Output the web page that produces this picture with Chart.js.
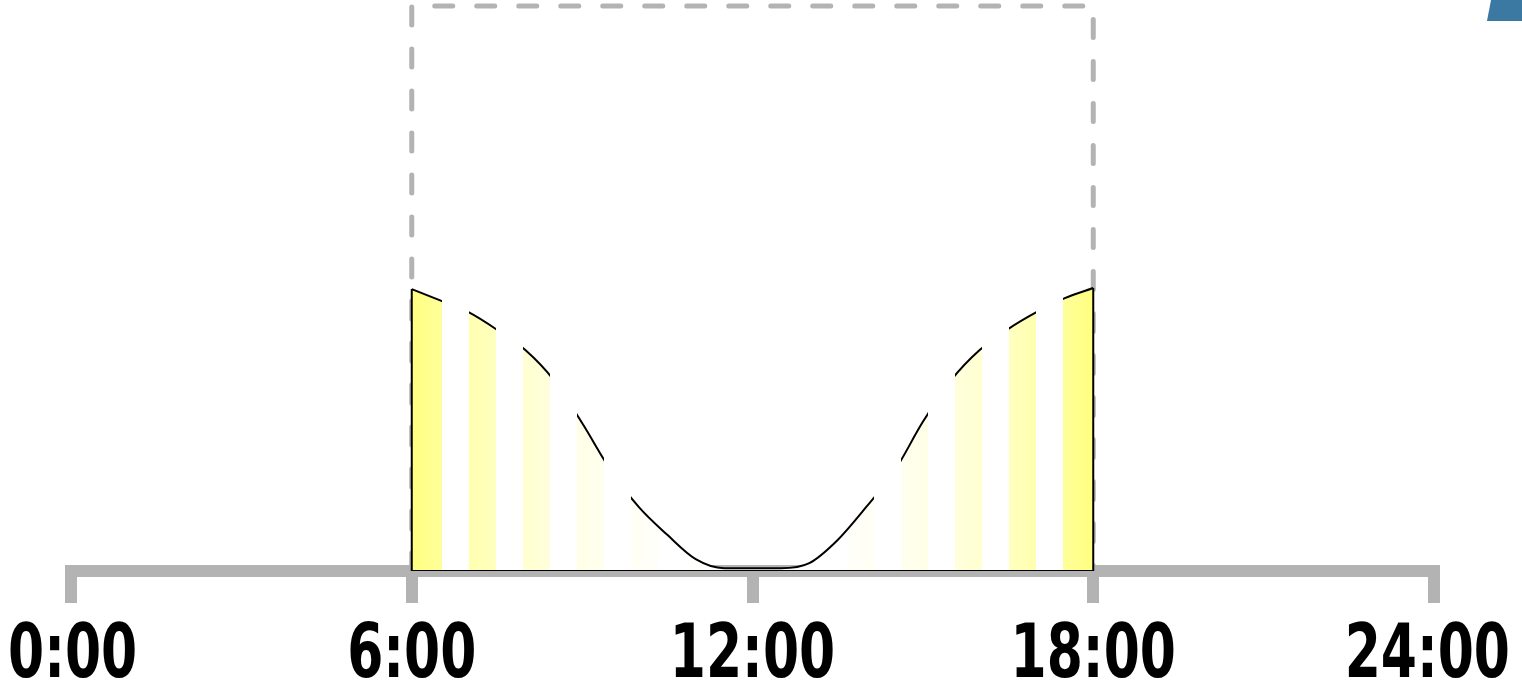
<!DOCTYPE html>
<html>
<head>
<meta charset="utf-8">
<script src="https://cdn.jsdelivr.net/npm/chart.js@4.4.1/dist/chart.umd.min.js"></script>
<style>
  html, body { margin: 0; padding: 0; background: #ffffff; }
  #contenedor { position: relative; width: 1522px; height: 681px; overflow: hidden; }
  #esquina {
    position: absolute; top: 0; right: 0; width: 35px; height: 21px;
    background: #3b79a2;
    clip-path: polygon(4px 0, 100% 0, 100% 100%, 0 100%);
  }
</style>
</head>
<body>
<div id="contenedor">
  <canvas id="luz"></canvas>
  <div id="esquina"></div>
</div>
<script>
// marcas del eje horizontal
const horasEje = [0, 6, 12, 18, 24];
const etiquetasEje = ['0:00', '6:00', '12:00', '18:00', '24:00'];

// horas con luz y alto del marco discontinuo
const inicioDia = 6;
const finDia = 18;
const altoMarco = 100;

// curva cada media hora
const horasCurva = [6, 6.5, 7, 7.5, 8, 8.5, 9, 9.5, 10, 10.5, 11, 11.5, 12,
                    12.5, 13, 13.5, 14, 14.5, 15, 15.5, 16, 16.5, 17, 17.5, 18];
const valoresCurva = [49.9, 47.9, 45.8, 42.7, 39.1, 33.8, 26.2, 17.9, 11.3, 6.4, 2.1, 0.5, 0.5,
                      0.5, 1.4, 5.5, 11.3, 17.7, 26.4, 33.8, 39.1, 42.8, 45.8, 48.3, 50.1];

// franjas verticales
const mediodia = 12;
const pasoFranja = 0.95;
const medioAncho = 0.235;

function amarillo(h) {
    const d = Math.abs(h - mediodia) / (mediodia - inicioDia);
    const b = Math.round(255 - 255 * 0.5 * Math.pow(d, 2.5));
    return 'rgb(255,255,' + b + ')';
}

const colorRelleno = (activa, h) => activa ? amarillo(h) : '#ffffff';
const colorLinea = (activa, h) =>
    (activa || Math.abs(h - mediodia) < 2) ? '#000000' : 'rgba(0,0,0,0)';

// gradiente con cortes duros: franja de color / hueco
function franjas(chart, colorDe) {
    const {ctx, chartArea, scales} = chart;
    if (!chartArea) return 'transparent';
    const x = scales.x;
    const p0 = x.getPixelForValue(inicioDia);
    const p1 = x.getPixelForValue(finDia);
    const g = ctx.createLinearGradient(p0, 0, p1, 0);
    const pos = h => Math.min(1, Math.max(0, (h - inicioDia) / (finDia - inicioDia)));
    const n = Math.round((mediodia - inicioDia) / pasoFranja);
    let previo = inicioDia;
    for (let k = -n; k <= n; k++) {
        const c = mediodia + k * pasoFranja;
        const a = k === -n ? inicioDia : c - medioAncho;
        const b = k === n ? finDia : c + medioAncho;
        if (k > -n) {
            const hueco = colorDe(false, (previo + a) / 2);
            g.addColorStop(pos(previo), hueco);
            g.addColorStop(pos(a), hueco);
        }
        g.addColorStop(pos(a), colorDe(true, a));
        g.addColorStop(pos(b), colorDe(true, b));
        previo = b;
    }
    return g;
}

// etiquetas del eje en letra estrecha (se comprime en horizontal)
const etiquetasEstrechas = {
    id: 'etiquetasEstrechas',
    afterDraw(chart) {
        const x = chart.scales.x;
        const ctx = chart.ctx;
        const compresion = 0.78;
        ctx.save();
        ctx.font = 'bold 74px "DejaVu Sans Condensed", "DejaVu Sans", sans-serif';
        ctx.fillStyle = '#000000';
        ctx.textAlign = 'center';
        ctx.textBaseline = 'alphabetic';
        horasEje.forEach((h, i) => {
            const texto = etiquetasEje[i];
            const w = ctx.measureText(texto).width * compresion;
            let cx = x.getPixelForValue(h);
            cx = Math.max(cx, 8 + w / 2);
            cx = Math.min(cx, chart.width - 12 - w / 2);
            ctx.save();
            ctx.translate(cx, x.top + 106);
            ctx.scale(compresion, 1);
            ctx.fillText(texto, 0, 0);
            ctx.restore();
        });
        ctx.restore();
    }
};

const ultimo = valoresCurva.length - 1;

new Chart(document.getElementById('luz'), {
    type: 'line',
    data: {
        datasets: [{
            // curva rellena con franjas
            data: horasCurva.map((h, i) => ({x: h, y: valoresCurva[i]})),
            fill: 'origin',
            backgroundColor: c => franjas(c.chart, colorRelleno),
            borderColor: c => franjas(c.chart, colorLinea),
            borderWidth: 2,
            cubicInterpolationMode: 'monotone',
            pointRadius: 0,
            order: 1
        }, {
            // lados y base
            data: [{x: inicioDia, y: valoresCurva[0]}, {x: inicioDia, y: 0},
                   {x: finDia, y: 0}, {x: finDia, y: valoresCurva[ultimo]}],
            borderColor: '#000000',
            borderWidth: 2,
            fill: false,
            tension: 0,
            pointRadius: 0,
            order: 0
        }, {
            // marco discontinuo
            data: [{x: inicioDia, y: 0}, {x: inicioDia, y: altoMarco},
                   {x: finDia, y: altoMarco}, {x: finDia, y: 0}],
            borderColor: '#b3b3b3',
            borderWidth: 5,
            borderDash: [18, 24],
            borderCapStyle: 'round',
            fill: false,
            tension: 0,
            pointRadius: 0,
            clip: false,
            order: 2
        }]
    },
    options: {
        responsive: true,
        maintainAspectRatio: false,
        animation: false,
        devicePixelRatio: 1,
        events: [],
        layout: { padding: { left: 71, right: 88, top: 6, bottom: 0 } },
        plugins: { legend: { display: false }, tooltip: { enabled: false } },
        scales: {
            x: {
                type: 'linear',
                min: 0,
                max: 24,
                afterBuildTicks: s => { s.ticks = horasEje.map(v => ({value: v})); },
                afterFit: s => { s.height = 110; },
                ticks: { display: false },
                grid: {
                    drawOnChartArea: false,
                    color: '#b3b3b3',
                    lineWidth: 12,
                    tickLength: 32,
                    tickWidth: 12,
                    tickColor: '#b3b3b3'
                },
                border: { color: '#b3b3b3', width: 12 }
            },
            y: { display: false, min: 0, max: 100 }
        }
    },
    plugins: [etiquetasEstrechas]
});
</script>
</body>
</html>
